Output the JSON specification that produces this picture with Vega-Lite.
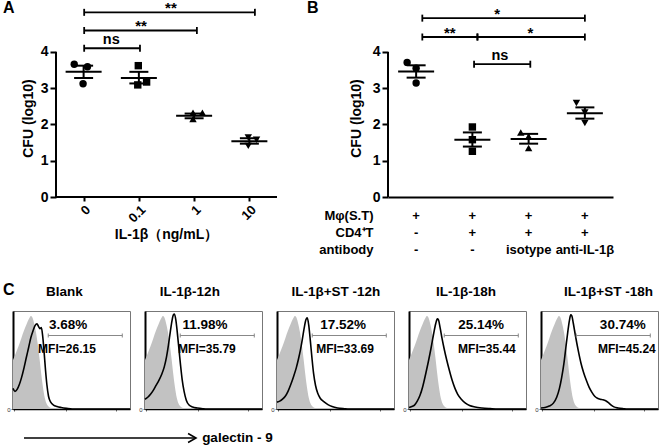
{
"$schema": "https://vega.github.io/schema/vega-lite/v6.json",
"padding": {"left": 2, "top": 0, "right": 0, "bottom": 0},
"config": {
  "view": {"stroke": null},
  "font": "Liberation Sans",
  "text": {"font": "Liberation Sans", "fontWeight": "bold", "color": "black"},
  "axis": {"labelFont": "Liberation Sans", "titleFont": "Liberation Sans", "labelColor": "black", "titleColor": "black", "grid": false, "domainColor": "black", "tickColor": "black"},
  "title": {"font": "Liberation Sans", "fontWeight": "bold", "fontSize": 13.5, "color": "black"}
},
"datasets": {
  "ptsA": [
    {"dose": "0", "pos": -0.17, "cfu": 3.66}, {"dose": "0", "pos": 0.07, "cfu": 3.59}, {"dose": "0", "pos": -0.01, "cfu": 3.12},
    {"dose": "0.1", "pos": 0.99, "cfu": 3.62}, {"dose": "0.1", "pos": 0.98, "cfu": 3.09}, {"dose": "0.1", "pos": 1.14, "cfu": 3.17},
    {"dose": "1", "pos": 1.98, "cfu": 2.32}, {"dose": "1", "pos": 2.15, "cfu": 2.32}, {"dose": "1", "pos": 1.98, "cfu": 2.15},
    {"dose": "10", "pos": 2.98, "cfu": 1.64}, {"dose": "10", "pos": 3.13, "cfu": 1.58}, {"dose": "10", "pos": 2.98, "cfu": 1.41}
  ],
  "statA": [
    {"g": 0, "mean": 3.45, "lo": 3.28, "hi": 3.62},
    {"g": 1, "mean": 3.28, "lo": 3.13, "hi": 3.45},
    {"g": 2, "mean": 2.24, "lo": 2.17, "hi": 2.30},
    {"g": 3, "mean": 1.54, "lo": 1.47, "hi": 1.62}
  ],
  "sigA": [
    {"from": 0.01, "to": 1.02, "lvl": 4.10, "mid": 0.5, "label": "ns"},
    {"from": 0.01, "to": 2.05, "lvl": 4.59, "mid": 1.04, "label": "**"},
    {"from": 0.01, "to": 3.1, "lvl": 5.09, "mid": 1.58, "label": "**"}
  ],
  "ptsB": [
    {"cond": "Mφ", "pos": -0.16, "cfu": 3.71}, {"cond": "Mφ", "pos": 0.0, "cfu": 3.55}, {"cond": "Mφ", "pos": 0.0, "cfu": 3.14},
    {"cond": "Mφ+CD4T", "pos": 1.0, "cfu": 1.93}, {"cond": "Mφ+CD4T", "pos": 1.0, "cfu": 1.58}, {"cond": "Mφ+CD4T", "pos": 1.0, "cfu": 1.26},
    {"cond": "Mφ+CD4T+isotype", "pos": 1.86, "cfu": 1.78}, {"cond": "Mφ+CD4T+isotype", "pos": 2.0, "cfu": 1.67}, {"cond": "Mφ+CD4T+isotype", "pos": 2.0, "cfu": 1.35},
    {"cond": "Mφ+CD4T+anti-IL-1β", "pos": 2.85, "cfu": 2.59}, {"cond": "Mφ+CD4T+anti-IL-1β", "pos": 3.0, "cfu": 2.33}, {"cond": "Mφ+CD4T+anti-IL-1β", "pos": 3.0, "cfu": 2.04}
  ],
  "statB": [
    {"g": 0, "mean": 3.46, "lo": 3.29, "hi": 3.63},
    {"g": 1, "mean": 1.58, "lo": 1.39, "hi": 1.78},
    {"g": 2, "mean": 1.60, "lo": 1.47, "hi": 1.74},
    {"g": 3, "mean": 2.31, "lo": 2.16, "hi": 2.47}
  ],
  "sigB": [
    {"from": 0.11, "to": 3.0, "lvl": 4.93, "mid": 1.44, "label": "*"},
    {"from": 0.11, "to": 1.09, "lvl": 4.41, "mid": 0.6, "label": "**"},
    {"from": 1.09, "to": 3.0, "lvl": 4.41, "mid": 2.03, "label": "*"},
    {"from": 1.03, "to": 2.03, "lvl": 3.66, "mid": 1.49, "label": "ns"}
  ],
  "tabB": [
    {"g": 0, "row": "Mφ(S.T)", "txt": "+"}, {"g": 1, "row": "Mφ(S.T)", "txt": "+"}, {"g": 2, "row": "Mφ(S.T)", "txt": "+"}, {"g": 3, "row": "Mφ(S.T)", "txt": "+"},
    {"g": 0, "row": "CD4⁺T", "txt": "-"}, {"g": 1, "row": "CD4⁺T", "txt": "+"}, {"g": 2, "row": "CD4⁺T", "txt": "+"}, {"g": 3, "row": "CD4⁺T", "txt": "+"},
    {"g": 0, "row": "antibody", "txt": "-"}, {"g": 1, "row": "antibody", "txt": "-"}, {"g": 2, "row": "antibody", "txt": "isotype"}, {"g": 3, "row": "antibody", "txt": "anti-IL-1β"}
  ],
  "iso": [
    {"lx": -0.15, "pct": 50}, {"lx": -0.05, "pct": 57}, {"lx": 0.05, "pct": 64}, {"lx": 0.15, "pct": 72}, {"lx": 0.25, "pct": 80},
    {"lx": 0.35, "pct": 87}, {"lx": 0.43, "pct": 92}, {"lx": 0.5, "pct": 95}, {"lx": 0.56, "pct": 93}, {"lx": 0.62, "pct": 87},
    {"lx": 0.68, "pct": 79}, {"lx": 0.75, "pct": 66}, {"lx": 0.82, "pct": 50}, {"lx": 0.88, "pct": 35}, {"lx": 0.94, "pct": 22},
    {"lx": 1.0, "pct": 12}, {"lx": 1.06, "pct": 6}, {"lx": 1.14, "pct": 2.5}, {"lx": 1.25, "pct": 0.8}, {"lx": 1.4, "pct": 0}, {"lx": 4.1, "pct": 0}
  ],
  "hist": [
    {"panel": 1, "lx": -0.15, "pct": 21}, {"panel": 1, "lx": -0.08, "pct": 18}, {"panel": 1, "lx": 0.0, "pct": 20}, {"panel": 1, "lx": 0.08, "pct": 25},
    {"panel": 1, "lx": 0.16, "pct": 32}, {"panel": 1, "lx": 0.25, "pct": 42}, {"panel": 1, "lx": 0.33, "pct": 52}, {"panel": 1, "lx": 0.42, "pct": 63},
    {"panel": 1, "lx": 0.5, "pct": 73}, {"panel": 1, "lx": 0.58, "pct": 80}, {"panel": 1, "lx": 0.65, "pct": 85}, {"panel": 1, "lx": 0.72, "pct": 87},
    {"panel": 1, "lx": 0.78, "pct": 84}, {"panel": 1, "lx": 0.83, "pct": 82}, {"panel": 1, "lx": 0.88, "pct": 83}, {"panel": 1, "lx": 0.93, "pct": 74},
    {"panel": 1, "lx": 0.98, "pct": 58}, {"panel": 1, "lx": 1.03, "pct": 40}, {"panel": 1, "lx": 1.08, "pct": 25}, {"panel": 1, "lx": 1.14, "pct": 13},
    {"panel": 1, "lx": 1.22, "pct": 7}, {"panel": 1, "lx": 1.32, "pct": 4}, {"panel": 1, "lx": 1.45, "pct": 2.5}, {"panel": 1, "lx": 1.6, "pct": 1.5},
    {"panel": 1, "lx": 1.8, "pct": 0.6}, {"panel": 1, "lx": 2.0, "pct": 0}, {"panel": 1, "lx": 4.1, "pct": 0},

    {"panel": 2, "lx": -0.15, "pct": 10}, {"panel": 2, "lx": -0.05, "pct": 12}, {"panel": 2, "lx": 0.05, "pct": 15}, {"panel": 2, "lx": 0.15, "pct": 19},
    {"panel": 2, "lx": 0.25, "pct": 24}, {"panel": 2, "lx": 0.35, "pct": 29}, {"panel": 2, "lx": 0.45, "pct": 35}, {"panel": 2, "lx": 0.55, "pct": 43},
    {"panel": 2, "lx": 0.63, "pct": 53}, {"panel": 2, "lx": 0.7, "pct": 65}, {"panel": 2, "lx": 0.77, "pct": 79}, {"panel": 2, "lx": 0.83, "pct": 90},
    {"panel": 2, "lx": 0.88, "pct": 96}, {"panel": 2, "lx": 0.92, "pct": 97}, {"panel": 2, "lx": 0.97, "pct": 91}, {"panel": 2, "lx": 1.02, "pct": 79},
    {"panel": 2, "lx": 1.08, "pct": 62}, {"panel": 2, "lx": 1.14, "pct": 45}, {"panel": 2, "lx": 1.2, "pct": 30}, {"panel": 2, "lx": 1.27, "pct": 18},
    {"panel": 2, "lx": 1.35, "pct": 9}, {"panel": 2, "lx": 1.45, "pct": 4}, {"panel": 2, "lx": 1.58, "pct": 2}, {"panel": 2, "lx": 1.75, "pct": 1},
    {"panel": 2, "lx": 1.95, "pct": 0.3}, {"panel": 2, "lx": 2.1, "pct": 0}, {"panel": 2, "lx": 4.1, "pct": 0},

    {"panel": 3, "lx": -0.15, "pct": 7}, {"panel": 3, "lx": -0.05, "pct": 8}, {"panel": 3, "lx": 0.05, "pct": 10}, {"panel": 3, "lx": 0.15, "pct": 13},
    {"panel": 3, "lx": 0.25, "pct": 18}, {"panel": 3, "lx": 0.35, "pct": 25}, {"panel": 3, "lx": 0.45, "pct": 33}, {"panel": 3, "lx": 0.55, "pct": 42},
    {"panel": 3, "lx": 0.63, "pct": 51}, {"panel": 3, "lx": 0.7, "pct": 60}, {"panel": 3, "lx": 0.77, "pct": 71}, {"panel": 3, "lx": 0.84, "pct": 83},
    {"panel": 3, "lx": 0.9, "pct": 91}, {"panel": 3, "lx": 0.95, "pct": 93}, {"panel": 3, "lx": 1.0, "pct": 86}, {"panel": 3, "lx": 1.06, "pct": 70},
    {"panel": 3, "lx": 1.12, "pct": 52}, {"panel": 3, "lx": 1.18, "pct": 36}, {"panel": 3, "lx": 1.25, "pct": 24}, {"panel": 3, "lx": 1.33, "pct": 16},
    {"panel": 3, "lx": 1.42, "pct": 11}, {"panel": 3, "lx": 1.55, "pct": 7.5}, {"panel": 3, "lx": 1.7, "pct": 4.5}, {"panel": 3, "lx": 1.85, "pct": 2.5},
    {"panel": 3, "lx": 2.05, "pct": 1}, {"panel": 3, "lx": 2.3, "pct": 0.3}, {"panel": 3, "lx": 2.5, "pct": 0}, {"panel": 3, "lx": 4.1, "pct": 0},

    {"panel": 4, "lx": -0.15, "pct": 1.5}, {"panel": 4, "lx": -0.05, "pct": 2.5}, {"panel": 4, "lx": 0.05, "pct": 4}, {"panel": 4, "lx": 0.15, "pct": 8},
    {"panel": 4, "lx": 0.25, "pct": 14}, {"panel": 4, "lx": 0.35, "pct": 23}, {"panel": 4, "lx": 0.45, "pct": 35}, {"panel": 4, "lx": 0.55, "pct": 48},
    {"panel": 4, "lx": 0.65, "pct": 62}, {"panel": 4, "lx": 0.74, "pct": 76}, {"panel": 4, "lx": 0.82, "pct": 87}, {"panel": 4, "lx": 0.88, "pct": 92},
    {"panel": 4, "lx": 0.92, "pct": 91}, {"panel": 4, "lx": 0.98, "pct": 83}, {"panel": 4, "lx": 1.05, "pct": 72}, {"panel": 4, "lx": 1.13, "pct": 61},
    {"panel": 4, "lx": 1.22, "pct": 50}, {"panel": 4, "lx": 1.32, "pct": 39}, {"panel": 4, "lx": 1.42, "pct": 29}, {"panel": 4, "lx": 1.52, "pct": 21},
    {"panel": 4, "lx": 1.62, "pct": 15}, {"panel": 4, "lx": 1.75, "pct": 10}, {"panel": 4, "lx": 1.9, "pct": 6}, {"panel": 4, "lx": 2.05, "pct": 3.5},
    {"panel": 4, "lx": 2.25, "pct": 2}, {"panel": 4, "lx": 2.5, "pct": 1}, {"panel": 4, "lx": 2.8, "pct": 0.4}, {"panel": 4, "lx": 3.1, "pct": 0}, {"panel": 4, "lx": 4.1, "pct": 0},

    {"panel": 5, "lx": -0.15, "pct": 1}, {"panel": 5, "lx": 0.0, "pct": 1.5}, {"panel": 5, "lx": 0.15, "pct": 3}, {"panel": 5, "lx": 0.3, "pct": 6},
    {"panel": 5, "lx": 0.42, "pct": 12}, {"panel": 5, "lx": 0.52, "pct": 21}, {"panel": 5, "lx": 0.6, "pct": 32}, {"panel": 5, "lx": 0.68, "pct": 46},
    {"panel": 5, "lx": 0.75, "pct": 62}, {"panel": 5, "lx": 0.82, "pct": 78}, {"panel": 5, "lx": 0.88, "pct": 90}, {"panel": 5, "lx": 0.93, "pct": 96},
    {"panel": 5, "lx": 0.97, "pct": 95}, {"panel": 5, "lx": 1.02, "pct": 88}, {"panel": 5, "lx": 1.1, "pct": 75}, {"panel": 5, "lx": 1.2, "pct": 60},
    {"panel": 5, "lx": 1.3, "pct": 47}, {"panel": 5, "lx": 1.4, "pct": 37}, {"panel": 5, "lx": 1.5, "pct": 29}, {"panel": 5, "lx": 1.6, "pct": 22},
    {"panel": 5, "lx": 1.7, "pct": 17}, {"panel": 5, "lx": 1.8, "pct": 13}, {"panel": 5, "lx": 1.9, "pct": 11}, {"panel": 5, "lx": 2.0, "pct": 10},
    {"panel": 5, "lx": 2.1, "pct": 9.5}, {"panel": 5, "lx": 2.2, "pct": 8.5}, {"panel": 5, "lx": 2.3, "pct": 6.5}, {"panel": 5, "lx": 2.4, "pct": 4},
    {"panel": 5, "lx": 2.5, "pct": 2.2}, {"panel": 5, "lx": 2.65, "pct": 1}, {"panel": 5, "lx": 2.85, "pct": 0.3}, {"panel": 5, "lx": 3.0, "pct": 0}, {"panel": 5, "lx": 4.1, "pct": 0}
  ],
  "annC": [
    {"panel": 1, "name": "Blank", "pct": "3.68%", "mfi": "MFI=26.15"},
    {"panel": 2, "name": "IL-1β-12h", "pct": "11.98%", "mfi": "MFI=35.79"},
    {"panel": 3, "name": "IL-1β+ST -12h", "pct": "17.52%", "mfi": "MFI=33.69"},
    {"panel": 4, "name": "IL-1β-18h", "pct": "25.14%", "mfi": "MFI=35.44"},
    {"panel": 5, "name": "IL-1β+ST -18h", "pct": "30.74%", "mfi": "MFI=45.24"}
  ]
},
"bounds": "full",
"spacing": 23,
"vconcat": [
  {
    "bounds": "flush",
    "spacing": 111,
    "hconcat": [
      {
        "width": 264, "height": 197,
        "layer": [
          {"data": {"name": "ptsA"}, "mark": {"type": "point", "filled": true, "size": 55, "opacity": 1, "color": "black"},
           "encoding": {
             "x": {"field": "pos", "type": "quantitative", "scale": {"domain": [-1.278, 3.5], "nice": false, "zero": false},
                   "axis": {"values": [0, 1, 2, 3], "labelExpr": "['0','0.1','1','10'][datum.value]", "labelAngle": -45, "labelFontSize": 13, "labelFontWeight": "bold", "domain": false, "tickSize": 4, "tickWidth": 2, "labelPadding": 2, "title": "IL-1β（ng/mL）", "titleX": 153, "titleFontSize": 14, "titleFontWeight": "bold", "titlePadding": 3}},
             "y": {"field": "cfu", "type": "quantitative", "scale": {"domain": [0, 5.43], "nice": false, "zero": false},
                   "axis": {"values": [0, 1, 2, 3, 4], "offset": -43, "domain": false, "tickSize": 6, "tickWidth": 2, "labelFontSize": 14, "labelFontWeight": "bold", "labelPadding": 2, "title": "CFU (log10)", "titleFontSize": 14, "titleFontWeight": "bold", "titlePadding": 5, "titleY": 118}},
             "shape": {"field": "dose", "type": "nominal", "scale": {"domain": ["0", "0.1", "1", "10"], "range": ["circle", "square", "triangle-up", "triangle-down"]}, "legend": null}
           }},
          {"data": {"name": "statA"}, "mark": {"type": "tick", "orient": "horizontal", "size": 36, "thickness": 2, "opacity": 1, "color": "black"},
           "encoding": {"x": {"field": "g", "type": "quantitative"}, "y": {"field": "mean", "type": "quantitative"}}},
          {"data": {"name": "statA"}, "mark": {"type": "tick", "orient": "horizontal", "size": 19, "thickness": 2, "opacity": 1, "color": "black"},
           "encoding": {"x": {"field": "g", "type": "quantitative"}, "y": {"field": "lo", "type": "quantitative"}}},
          {"data": {"name": "statA"}, "mark": {"type": "tick", "orient": "horizontal", "size": 19, "thickness": 2, "opacity": 1, "color": "black"},
           "encoding": {"x": {"field": "g", "type": "quantitative"}, "y": {"field": "hi", "type": "quantitative"}}},
          {"data": {"name": "statA"}, "mark": {"type": "rule", "strokeWidth": 2, "color": "black"},
           "encoding": {"x": {"field": "g", "type": "quantitative"}, "y": {"field": "lo", "type": "quantitative"}, "y2": {"field": "hi"}}},
          {"data": {"values": [{}]}, "mark": {"type": "rule", "strokeWidth": 2, "color": "black"},
           "encoding": {"x": {"datum": -0.5, "type": "quantitative"}, "y": {"datum": 0, "type": "quantitative"}, "y2": {"datum": 4}}},
          {"data": {"values": [{}]}, "mark": {"type": "rule", "strokeWidth": 2, "color": "black"},
           "encoding": {"x": {"datum": -0.5, "type": "quantitative"}, "x2": {"datum": 3.5}, "y": {"datum": 0, "type": "quantitative"}}},
          {"data": {"name": "sigA"}, "mark": {"type": "rule", "strokeWidth": 1.8, "color": "black"},
           "encoding": {"x": {"field": "from", "type": "quantitative"}, "x2": {"field": "to"}, "y": {"field": "lvl", "type": "quantitative"}}},
          {"data": {"name": "sigA"}, "mark": {"type": "tick", "orient": "vertical", "size": 7, "thickness": 1.8, "opacity": 1, "color": "black"},
           "encoding": {"x": {"field": "from", "type": "quantitative"}, "y": {"field": "lvl", "type": "quantitative"}}},
          {"data": {"name": "sigA"}, "mark": {"type": "tick", "orient": "vertical", "size": 7, "thickness": 1.8, "opacity": 1, "color": "black"},
           "encoding": {"x": {"field": "to", "type": "quantitative"}, "y": {"field": "lvl", "type": "quantitative"}}},
          {"data": {"name": "sigA"}, "transform": [{"filter": "datum.label == 'ns'"}], "mark": {"type": "text", "fontSize": 14.5, "dy": -4, "baseline": "alphabetic"},
           "encoding": {"x": {"field": "mid", "type": "quantitative"}, "y": {"field": "lvl", "type": "quantitative"}, "text": {"field": "label"}}},
          {"data": {"name": "sigA"}, "transform": [{"filter": "datum.label != 'ns'"}], "mark": {"type": "text", "fontSize": 15, "dy": 1, "baseline": "alphabetic"},
           "encoding": {"x": {"field": "mid", "type": "quantitative"}, "y": {"field": "lvl", "type": "quantitative"}, "text": {"field": "label"}}},
          {"data": {"values": [{"p": "A"}]}, "mark": {"type": "text", "fontSize": 16, "align": "left", "baseline": "top"},
           "encoding": {"x": {"datum": -1.459, "type": "quantitative"}, "y": {"datum": 5.43, "type": "quantitative"}, "text": {"field": "p"}}}
        ]
      },
      {
        "bounds": "flush",
        "spacing": 10,
        "vconcat": [
          {
            "width": 225, "height": 197,
            "layer": [
              {"data": {"name": "ptsB"}, "mark": {"type": "point", "filled": true, "size": 55, "opacity": 1, "color": "black"},
               "encoding": {
                 "x": {"field": "pos", "type": "quantitative", "scale": {"domain": [-0.5, 3.5], "nice": false, "zero": false},
                       "axis": {"values": [0, 1, 2, 3], "labels": false, "ticks": false, "domainWidth": 2, "title": null}},
                 "y": {"field": "cfu", "type": "quantitative", "scale": {"domain": [0, 5.43], "nice": false, "zero": false},
                       "axis": {"values": [0, 1, 2, 3, 4], "domain": false, "tickSize": 6, "tickWidth": 2, "labelFontSize": 14, "labelFontWeight": "bold", "labelPadding": 2, "title": "CFU (log10)", "titleFontSize": 14, "titleFontWeight": "bold", "titlePadding": 9, "titleY": 118}},
                 "shape": {"field": "cond", "type": "nominal", "scale": {"domain": ["Mφ", "Mφ+CD4T", "Mφ+CD4T+isotype", "Mφ+CD4T+anti-IL-1β"], "range": ["circle", "square", "triangle-up", "triangle-down"]}, "legend": null}
               }},
              {"data": {"name": "statB"}, "mark": {"type": "tick", "orient": "horizontal", "size": 36, "thickness": 2, "opacity": 1, "color": "black"},
               "encoding": {"x": {"field": "g", "type": "quantitative"}, "y": {"field": "mean", "type": "quantitative"}}},
              {"data": {"name": "statB"}, "mark": {"type": "tick", "orient": "horizontal", "size": 19, "thickness": 2, "opacity": 1, "color": "black"},
               "encoding": {"x": {"field": "g", "type": "quantitative"}, "y": {"field": "lo", "type": "quantitative"}}},
              {"data": {"name": "statB"}, "mark": {"type": "tick", "orient": "horizontal", "size": 19, "thickness": 2, "opacity": 1, "color": "black"},
               "encoding": {"x": {"field": "g", "type": "quantitative"}, "y": {"field": "hi", "type": "quantitative"}}},
              {"data": {"name": "statB"}, "mark": {"type": "rule", "strokeWidth": 2, "color": "black"},
               "encoding": {"x": {"field": "g", "type": "quantitative"}, "y": {"field": "lo", "type": "quantitative"}, "y2": {"field": "hi"}}},
              {"data": {"values": [{}]}, "mark": {"type": "rule", "strokeWidth": 2, "color": "black"},
               "encoding": {"x": {"datum": -0.5, "type": "quantitative"}, "y": {"datum": 0, "type": "quantitative"}, "y2": {"datum": 4}}},
              {"data": {"name": "sigB"}, "mark": {"type": "rule", "strokeWidth": 1.8, "color": "black"},
               "encoding": {"x": {"field": "from", "type": "quantitative"}, "x2": {"field": "to"}, "y": {"field": "lvl", "type": "quantitative"}}},
              {"data": {"name": "sigB"}, "mark": {"type": "tick", "orient": "vertical", "size": 7, "thickness": 1.8, "opacity": 1, "color": "black"},
               "encoding": {"x": {"field": "from", "type": "quantitative"}, "y": {"field": "lvl", "type": "quantitative"}}},
              {"data": {"name": "sigB"}, "mark": {"type": "tick", "orient": "vertical", "size": 7, "thickness": 1.8, "opacity": 1, "color": "black"},
               "encoding": {"x": {"field": "to", "type": "quantitative"}, "y": {"field": "lvl", "type": "quantitative"}}},
              {"data": {"name": "sigB"}, "transform": [{"filter": "datum.label == 'ns'"}], "mark": {"type": "text", "fontSize": 14.5, "dy": -4, "baseline": "alphabetic"},
               "encoding": {"x": {"field": "mid", "type": "quantitative"}, "y": {"field": "lvl", "type": "quantitative"}, "text": {"field": "label"}}},
              {"data": {"name": "sigB"}, "transform": [{"filter": "datum.label != 'ns'"}], "mark": {"type": "text", "fontSize": 15, "dy": 1, "baseline": "alphabetic"},
               "encoding": {"x": {"field": "mid", "type": "quantitative"}, "y": {"field": "lvl", "type": "quantitative"}, "text": {"field": "label"}}},
              {"data": {"values": [{"p": "B"}]}, "mark": {"type": "text", "fontSize": 16, "align": "left", "baseline": "top"},
               "encoding": {"x": {"datum": -1.94, "type": "quantitative"}, "y": {"datum": 5.43, "type": "quantitative"}, "text": {"field": "p"}}}
            ]
          },
          {
            "width": 225, "height": 51,
            "data": {"name": "tabB"},
            "mark": {"type": "text", "fontSize": 13},
            "encoding": {
              "x": {"field": "g", "type": "quantitative", "scale": {"domain": [-0.5, 3.5], "nice": false, "zero": false}, "axis": null},
              "y": {"field": "row", "type": "nominal", "scale": {"domain": ["Mφ(S.T)", "CD4⁺T", "antibody"], "paddingInner": 0, "paddingOuter": 0},
                    "axis": {"domain": false, "ticks": false, "labelFontSize": 13, "labelFontWeight": "bold", "labelPadding": 15, "title": null}},
              "text": {"field": "txt"}
            }
          }
        ]
      }
    ]
  },
  {
    "bounds": "flush",
    "spacing": 15,
    "hconcat": [
      {
        "width": 117, "height": 98,
        "view": {"stroke": "#777", "strokeWidth": 1},
        "layer": [
          {"data": {"name": "iso"}, "mark": {"type": "area", "color": "#c2c2c2", "interpolate": "monotone"},
           "encoding": {
             "x": {"field": "lx", "type": "quantitative", "scale": {"domain": [-0.15, 4.1], "nice": false, "zero": false},
                   "axis": {"values": [-0.097, -0.046, 0, 0.301, 0.477, 0.602, 0.699, 0.778, 0.845, 0.903, 0.954, 1, 1.301, 1.477, 1.602, 1.699, 1.778, 1.845, 1.903, 1.954, 2, 2.301, 2.477, 2.602, 2.699, 2.778, 2.845, 2.903, 2.954, 3, 3.301, 3.477, 3.602, 3.699, 3.778, 3.845, 3.903, 3.954, 4],
                            "labelExpr": "indexof([0,1,2,3,4], datum.value) >= 0 ? '10' + ['⁰','¹','²','³','⁴'][datum.value] : ''",
                            "labelFontSize": 6, "labelColor": "#333", "labelPadding": 1, "labelOverlap": false, "labelBound": false, "labelFlush": false,
                            "tickSize": 2, "tickWidth": 0.8, "tickColor": "#444", "domainWidth": 1.5, "title": null}},
             "y": {"field": "pct", "type": "quantitative", "scale": {"domain": [0, 100], "nice": false, "zero": false},
                   "axis": {"values": [0], "labelFontSize": 6, "labelColor": "#333", "tickSize": 2, "tickWidth": 0.8, "tickColor": "#444", "labelPadding": 1, "domainWidth": 2, "title": null}}
           }},
          {"data": {"name": "hist"}, "transform": [{"filter": "datum.panel == 1"}], "mark": {"type": "line", "color": "black", "strokeWidth": 1.6, "interpolate": "monotone"},
           "encoding": {"x": {"field": "lx", "type": "quantitative"}, "y": {"field": "pct", "type": "quantitative"}}},
          {"data": {"name": "annC"}, "transform": [{"filter": "datum.panel == 1"}], "mark": {"type": "rule", "color": "#888", "strokeWidth": 1},
           "encoding": {"x": {"datum": 1.13, "type": "quantitative"}, "x2": {"datum": 3.82}, "y": {"datum": 75, "type": "quantitative"}}},
          {"data": {"name": "annC"}, "transform": [{"filter": "datum.panel == 1"}], "mark": {"type": "point", "shape": "M0,-1L0,1", "size": 16, "filled": false, "opacity": 1, "color": "#888", "strokeWidth": 1},
           "encoding": {"x": {"datum": 1.13, "type": "quantitative"}, "y": {"datum": 75, "type": "quantitative"}}},
          {"data": {"name": "annC"}, "transform": [{"filter": "datum.panel == 1"}], "mark": {"type": "point", "shape": "M0,-1L0,1", "size": 16, "filled": false, "opacity": 1, "color": "#888", "strokeWidth": 1},
           "encoding": {"x": {"datum": 3.82, "type": "quantitative"}, "y": {"datum": 75, "type": "quantitative"}}},
          {"data": {"name": "annC"}, "transform": [{"filter": "datum.panel == 1"}], "mark": {"type": "text", "fontSize": 13.5, "baseline": "alphabetic"},
           "encoding": {"x": {"datum": 1.72, "type": "quantitative"}, "y": {"datum": 115.3, "type": "quantitative"}, "text": {"field": "name"}}},
          {"data": {"name": "annC"}, "transform": [{"filter": "datum.panel == 1"}], "mark": {"type": "text", "fontSize": 13.5, "baseline": "alphabetic"},
           "encoding": {"x": {"datum": 1.85, "type": "quantitative"}, "y": {"datum": 81.6, "type": "quantitative"}, "text": {"field": "pct"}}},
          {"data": {"name": "annC"}, "transform": [{"filter": "datum.panel == 1"}], "mark": {"type": "text", "fontSize": 12, "baseline": "alphabetic"},
           "encoding": {"x": {"datum": 1.81, "type": "quantitative"}, "y": {"datum": 57.4, "type": "quantitative"}, "text": {"field": "mfi"}}},
          {"data": {"values": [{"p": "C"}]}, "mark": {"type": "text", "fontSize": 16, "align": "left", "baseline": "top"},
           "encoding": {"x": {"datum": -0.51, "type": "quantitative"}, "y": {"datum": 129.6, "type": "quantitative"}, "text": {"field": "p"}}},
          {"data": {"values": [{}]}, "mark": {"type": "rule", "strokeWidth": 1.5, "color": "black"},
           "encoding": {"x": {"datum": 0.25, "type": "quantitative"}, "x2": {"datum": 6.47}, "y": {"datum": -29.6, "type": "quantitative"}}},
          {"data": {"values": [{}]}, "mark": {"type": "point", "shape": "M-1.6,-0.9L0,0L-1.6,0.9", "size": 100, "filled": false, "opacity": 1, "color": "black", "strokeWidth": 1.5},
           "encoding": {"x": {"datum": 6.5, "type": "quantitative"}, "y": {"datum": -29.6, "type": "quantitative"}}},
          {"data": {"values": [{"t": "galectin - 9"}]}, "mark": {"type": "text", "fontSize": 13.5, "align": "left", "baseline": "middle"},
           "encoding": {"x": {"datum": 6.72, "type": "quantitative"}, "y": {"datum": -29.6, "type": "quantitative"}, "text": {"field": "t"}}}
        ]
      },
      {
        "width": 117, "height": 98,
        "view": {"stroke": "#777", "strokeWidth": 1},
        "layer": [
          {"data": {"name": "iso"}, "mark": {"type": "area", "color": "#c2c2c2", "interpolate": "monotone"},
           "encoding": {
             "x": {"field": "lx", "type": "quantitative", "scale": {"domain": [-0.15, 4.1], "nice": false, "zero": false},
                   "axis": {"values": [-0.097, -0.046, 0, 0.301, 0.477, 0.602, 0.699, 0.778, 0.845, 0.903, 0.954, 1, 1.301, 1.477, 1.602, 1.699, 1.778, 1.845, 1.903, 1.954, 2, 2.301, 2.477, 2.602, 2.699, 2.778, 2.845, 2.903, 2.954, 3, 3.301, 3.477, 3.602, 3.699, 3.778, 3.845, 3.903, 3.954, 4],
                            "labelExpr": "indexof([0,1,2,3,4], datum.value) >= 0 ? '10' + ['⁰','¹','²','³','⁴'][datum.value] : ''",
                            "labelFontSize": 6, "labelColor": "#333", "labelPadding": 1, "labelOverlap": false, "labelBound": false, "labelFlush": false,
                            "tickSize": 2, "tickWidth": 0.8, "tickColor": "#444", "domainWidth": 1.5, "title": null}},
             "y": {"field": "pct", "type": "quantitative", "scale": {"domain": [0, 100], "nice": false, "zero": false},
                   "axis": {"values": [0], "labelFontSize": 6, "labelColor": "#333", "tickSize": 2, "tickWidth": 0.8, "tickColor": "#444", "labelPadding": 1, "domainWidth": 2, "title": null}}
           }},
          {"data": {"name": "hist"}, "transform": [{"filter": "datum.panel == 2"}], "mark": {"type": "line", "color": "black", "strokeWidth": 1.6, "interpolate": "monotone"},
           "encoding": {"x": {"field": "lx", "type": "quantitative"}, "y": {"field": "pct", "type": "quantitative"}}},
          {"data": {"name": "annC"}, "transform": [{"filter": "datum.panel == 2"}], "mark": {"type": "rule", "color": "#888", "strokeWidth": 1},
           "encoding": {"x": {"datum": 1.13, "type": "quantitative"}, "x2": {"datum": 3.82}, "y": {"datum": 75, "type": "quantitative"}}},
          {"data": {"name": "annC"}, "transform": [{"filter": "datum.panel == 2"}], "mark": {"type": "point", "shape": "M0,-1L0,1", "size": 16, "filled": false, "opacity": 1, "color": "#888", "strokeWidth": 1},
           "encoding": {"x": {"datum": 1.13, "type": "quantitative"}, "y": {"datum": 75, "type": "quantitative"}}},
          {"data": {"name": "annC"}, "transform": [{"filter": "datum.panel == 2"}], "mark": {"type": "point", "shape": "M0,-1L0,1", "size": 16, "filled": false, "opacity": 1, "color": "#888", "strokeWidth": 1},
           "encoding": {"x": {"datum": 3.82, "type": "quantitative"}, "y": {"datum": 75, "type": "quantitative"}}},
          {"data": {"name": "annC"}, "transform": [{"filter": "datum.panel == 2"}], "mark": {"type": "text", "fontSize": 13.5, "baseline": "alphabetic"},
           "encoding": {"x": {"datum": 1.48, "type": "quantitative"}, "y": {"datum": 115.3, "type": "quantitative"}, "text": {"field": "name"}}},
          {"data": {"name": "annC"}, "transform": [{"filter": "datum.panel == 2"}], "mark": {"type": "text", "fontSize": 13.5, "baseline": "alphabetic"},
           "encoding": {"x": {"datum": 2.03, "type": "quantitative"}, "y": {"datum": 81.6, "type": "quantitative"}, "text": {"field": "pct"}}},
          {"data": {"name": "annC"}, "transform": [{"filter": "datum.panel == 2"}], "mark": {"type": "text", "fontSize": 12, "baseline": "alphabetic"},
           "encoding": {"x": {"datum": 2.1, "type": "quantitative"}, "y": {"datum": 57.4, "type": "quantitative"}, "text": {"field": "mfi"}}}
        ]
      },
      {
        "width": 117, "height": 98,
        "view": {"stroke": "#777", "strokeWidth": 1},
        "layer": [
          {"data": {"name": "iso"}, "mark": {"type": "area", "color": "#c2c2c2", "interpolate": "monotone"},
           "encoding": {
             "x": {"field": "lx", "type": "quantitative", "scale": {"domain": [-0.15, 4.1], "nice": false, "zero": false},
                   "axis": {"values": [-0.097, -0.046, 0, 0.301, 0.477, 0.602, 0.699, 0.778, 0.845, 0.903, 0.954, 1, 1.301, 1.477, 1.602, 1.699, 1.778, 1.845, 1.903, 1.954, 2, 2.301, 2.477, 2.602, 2.699, 2.778, 2.845, 2.903, 2.954, 3, 3.301, 3.477, 3.602, 3.699, 3.778, 3.845, 3.903, 3.954, 4],
                            "labelExpr": "indexof([0,1,2,3,4], datum.value) >= 0 ? '10' + ['⁰','¹','²','³','⁴'][datum.value] : ''",
                            "labelFontSize": 6, "labelColor": "#333", "labelPadding": 1, "labelOverlap": false, "labelBound": false, "labelFlush": false,
                            "tickSize": 2, "tickWidth": 0.8, "tickColor": "#444", "domainWidth": 1.5, "title": null}},
             "y": {"field": "pct", "type": "quantitative", "scale": {"domain": [0, 100], "nice": false, "zero": false},
                   "axis": {"values": [0], "labelFontSize": 6, "labelColor": "#333", "tickSize": 2, "tickWidth": 0.8, "tickColor": "#444", "labelPadding": 1, "domainWidth": 2, "title": null}}
           }},
          {"data": {"name": "hist"}, "transform": [{"filter": "datum.panel == 3"}], "mark": {"type": "line", "color": "black", "strokeWidth": 1.6, "interpolate": "monotone"},
           "encoding": {"x": {"field": "lx", "type": "quantitative"}, "y": {"field": "pct", "type": "quantitative"}}},
          {"data": {"name": "annC"}, "transform": [{"filter": "datum.panel == 3"}], "mark": {"type": "rule", "color": "#888", "strokeWidth": 1},
           "encoding": {"x": {"datum": 1.13, "type": "quantitative"}, "x2": {"datum": 3.82}, "y": {"datum": 75, "type": "quantitative"}}},
          {"data": {"name": "annC"}, "transform": [{"filter": "datum.panel == 3"}], "mark": {"type": "point", "shape": "M0,-1L0,1", "size": 16, "filled": false, "opacity": 1, "color": "#888", "strokeWidth": 1},
           "encoding": {"x": {"datum": 1.13, "type": "quantitative"}, "y": {"datum": 75, "type": "quantitative"}}},
          {"data": {"name": "annC"}, "transform": [{"filter": "datum.panel == 3"}], "mark": {"type": "point", "shape": "M0,-1L0,1", "size": 16, "filled": false, "opacity": 1, "color": "#888", "strokeWidth": 1},
           "encoding": {"x": {"datum": 3.82, "type": "quantitative"}, "y": {"datum": 75, "type": "quantitative"}}},
          {"data": {"name": "annC"}, "transform": [{"filter": "datum.panel == 3"}], "mark": {"type": "text", "fontSize": 13.5, "baseline": "alphabetic"},
           "encoding": {"x": {"datum": 1.99, "type": "quantitative"}, "y": {"datum": 115.3, "type": "quantitative"}, "text": {"field": "name"}}},
          {"data": {"name": "annC"}, "transform": [{"filter": "datum.panel == 3"}], "mark": {"type": "text", "fontSize": 13.5, "baseline": "alphabetic"},
           "encoding": {"x": {"datum": 2.25, "type": "quantitative"}, "y": {"datum": 81.6, "type": "quantitative"}, "text": {"field": "pct"}}},
          {"data": {"name": "annC"}, "transform": [{"filter": "datum.panel == 3"}], "mark": {"type": "text", "fontSize": 12, "baseline": "alphabetic"},
           "encoding": {"x": {"datum": 2.32, "type": "quantitative"}, "y": {"datum": 57.4, "type": "quantitative"}, "text": {"field": "mfi"}}}
        ]
      },
      {
        "width": 117, "height": 98,
        "view": {"stroke": "#777", "strokeWidth": 1},
        "layer": [
          {"data": {"name": "iso"}, "mark": {"type": "area", "color": "#c2c2c2", "interpolate": "monotone"},
           "encoding": {
             "x": {"field": "lx", "type": "quantitative", "scale": {"domain": [-0.15, 4.1], "nice": false, "zero": false},
                   "axis": {"values": [-0.097, -0.046, 0, 0.301, 0.477, 0.602, 0.699, 0.778, 0.845, 0.903, 0.954, 1, 1.301, 1.477, 1.602, 1.699, 1.778, 1.845, 1.903, 1.954, 2, 2.301, 2.477, 2.602, 2.699, 2.778, 2.845, 2.903, 2.954, 3, 3.301, 3.477, 3.602, 3.699, 3.778, 3.845, 3.903, 3.954, 4],
                            "labelExpr": "indexof([0,1,2,3,4], datum.value) >= 0 ? '10' + ['⁰','¹','²','³','⁴'][datum.value] : ''",
                            "labelFontSize": 6, "labelColor": "#333", "labelPadding": 1, "labelOverlap": false, "labelBound": false, "labelFlush": false,
                            "tickSize": 2, "tickWidth": 0.8, "tickColor": "#444", "domainWidth": 1.5, "title": null}},
             "y": {"field": "pct", "type": "quantitative", "scale": {"domain": [0, 100], "nice": false, "zero": false},
                   "axis": {"values": [0], "labelFontSize": 6, "labelColor": "#333", "tickSize": 2, "tickWidth": 0.8, "tickColor": "#444", "labelPadding": 1, "domainWidth": 2, "title": null}}
           }},
          {"data": {"name": "hist"}, "transform": [{"filter": "datum.panel == 4"}], "mark": {"type": "line", "color": "black", "strokeWidth": 1.6, "interpolate": "monotone"},
           "encoding": {"x": {"field": "lx", "type": "quantitative"}, "y": {"field": "pct", "type": "quantitative"}}},
          {"data": {"name": "annC"}, "transform": [{"filter": "datum.panel == 4"}], "mark": {"type": "rule", "color": "#888", "strokeWidth": 1},
           "encoding": {"x": {"datum": 1.13, "type": "quantitative"}, "x2": {"datum": 3.82}, "y": {"datum": 75, "type": "quantitative"}}},
          {"data": {"name": "annC"}, "transform": [{"filter": "datum.panel == 4"}], "mark": {"type": "point", "shape": "M0,-1L0,1", "size": 16, "filled": false, "opacity": 1, "color": "#888", "strokeWidth": 1},
           "encoding": {"x": {"datum": 1.13, "type": "quantitative"}, "y": {"datum": 75, "type": "quantitative"}}},
          {"data": {"name": "annC"}, "transform": [{"filter": "datum.panel == 4"}], "mark": {"type": "point", "shape": "M0,-1L0,1", "size": 16, "filled": false, "opacity": 1, "color": "#888", "strokeWidth": 1},
           "encoding": {"x": {"datum": 3.82, "type": "quantitative"}, "y": {"datum": 75, "type": "quantitative"}}},
          {"data": {"name": "annC"}, "transform": [{"filter": "datum.panel == 4"}], "mark": {"type": "text", "fontSize": 13.5, "baseline": "alphabetic"},
           "encoding": {"x": {"datum": 1.92, "type": "quantitative"}, "y": {"datum": 115.3, "type": "quantitative"}, "text": {"field": "name"}}},
          {"data": {"name": "annC"}, "transform": [{"filter": "datum.panel == 4"}], "mark": {"type": "text", "fontSize": 13.5, "baseline": "alphabetic"},
           "encoding": {"x": {"datum": 2.47, "type": "quantitative"}, "y": {"datum": 81.6, "type": "quantitative"}, "text": {"field": "pct"}}},
          {"data": {"name": "annC"}, "transform": [{"filter": "datum.panel == 4"}], "mark": {"type": "text", "fontSize": 12, "baseline": "alphabetic"},
           "encoding": {"x": {"datum": 2.68, "type": "quantitative"}, "y": {"datum": 57.4, "type": "quantitative"}, "text": {"field": "mfi"}}}
        ]
      },
      {
        "width": 117, "height": 98,
        "view": {"stroke": "#777", "strokeWidth": 1},
        "layer": [
          {"data": {"name": "iso"}, "mark": {"type": "area", "color": "#c2c2c2", "interpolate": "monotone"},
           "encoding": {
             "x": {"field": "lx", "type": "quantitative", "scale": {"domain": [-0.15, 4.1], "nice": false, "zero": false},
                   "axis": {"values": [-0.097, -0.046, 0, 0.301, 0.477, 0.602, 0.699, 0.778, 0.845, 0.903, 0.954, 1, 1.301, 1.477, 1.602, 1.699, 1.778, 1.845, 1.903, 1.954, 2, 2.301, 2.477, 2.602, 2.699, 2.778, 2.845, 2.903, 2.954, 3, 3.301, 3.477, 3.602, 3.699, 3.778, 3.845, 3.903, 3.954, 4],
                            "labelExpr": "indexof([0,1,2,3,4], datum.value) >= 0 ? '10' + ['⁰','¹','²','³','⁴'][datum.value] : ''",
                            "labelFontSize": 6, "labelColor": "#333", "labelPadding": 1, "labelOverlap": false, "labelBound": false, "labelFlush": false,
                            "tickSize": 2, "tickWidth": 0.8, "tickColor": "#444", "domainWidth": 1.5, "title": null}},
             "y": {"field": "pct", "type": "quantitative", "scale": {"domain": [0, 100], "nice": false, "zero": false},
                   "axis": {"values": [0], "labelFontSize": 6, "labelColor": "#333", "tickSize": 2, "tickWidth": 0.8, "tickColor": "#444", "labelPadding": 1, "domainWidth": 2, "title": null}}
           }},
          {"data": {"name": "hist"}, "transform": [{"filter": "datum.panel == 5"}], "mark": {"type": "line", "color": "black", "strokeWidth": 1.6, "interpolate": "monotone"},
           "encoding": {"x": {"field": "lx", "type": "quantitative"}, "y": {"field": "pct", "type": "quantitative"}}},
          {"data": {"name": "annC"}, "transform": [{"filter": "datum.panel == 5"}], "mark": {"type": "rule", "color": "#888", "strokeWidth": 1},
           "encoding": {"x": {"datum": 1.13, "type": "quantitative"}, "x2": {"datum": 3.82}, "y": {"datum": 75, "type": "quantitative"}}},
          {"data": {"name": "annC"}, "transform": [{"filter": "datum.panel == 5"}], "mark": {"type": "point", "shape": "M0,-1L0,1", "size": 16, "filled": false, "opacity": 1, "color": "#888", "strokeWidth": 1},
           "encoding": {"x": {"datum": 1.13, "type": "quantitative"}, "y": {"datum": 75, "type": "quantitative"}}},
          {"data": {"name": "annC"}, "transform": [{"filter": "datum.panel == 5"}], "mark": {"type": "point", "shape": "M0,-1L0,1", "size": 16, "filled": false, "opacity": 1, "color": "#888", "strokeWidth": 1},
           "encoding": {"x": {"datum": 3.82, "type": "quantitative"}, "y": {"datum": 75, "type": "quantitative"}}},
          {"data": {"name": "annC"}, "transform": [{"filter": "datum.panel == 5"}], "mark": {"type": "text", "fontSize": 13.5, "baseline": "alphabetic"},
           "encoding": {"x": {"datum": 2.3, "type": "quantitative"}, "y": {"datum": 115.3, "type": "quantitative"}, "text": {"field": "name"}}},
          {"data": {"name": "annC"}, "transform": [{"filter": "datum.panel == 5"}], "mark": {"type": "text", "fontSize": 13.5, "baseline": "alphabetic"},
           "encoding": {"x": {"datum": 2.82, "type": "quantitative"}, "y": {"datum": 81.6, "type": "quantitative"}, "text": {"field": "pct"}}},
          {"data": {"name": "annC"}, "transform": [{"filter": "datum.panel == 5"}], "mark": {"type": "text", "fontSize": 12, "baseline": "alphabetic"},
           "encoding": {"x": {"datum": 2.97, "type": "quantitative"}, "y": {"datum": 57.4, "type": "quantitative"}, "text": {"field": "mfi"}}}
        ]
      }
    ]
  }
]
}
